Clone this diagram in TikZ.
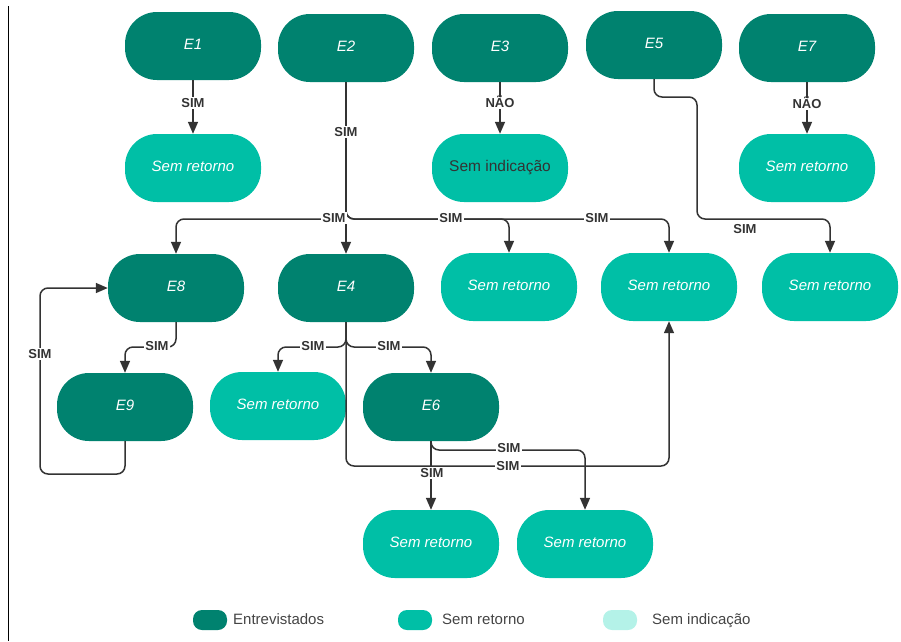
\documentclass[tikz,border=0pt]{standalone}
\usepackage{fontspec}
\setmainfont{Liberation Sans}
\usetikzlibrary{arrows.meta}
\definecolor{dk}{HTML}{00826F}
\definecolor{tl}{HTML}{00BFA6}
\definecolor{lt}{HTML}{B4F2E8}
\definecolor{ln}{HTML}{333333}
\definecolor{lg}{HTML}{444444}
\begin{document}
\begin{tikzpicture}[x=1pt,y=-1pt,
 pill/.style={rounded corners=32pt, minimum width=136pt, minimum height=68pt, inner sep=0pt, text height=11pt, text depth=3.5pt, text=white, font=\fontsize{15}{17}\selectfont\itshape},
 ent/.style={pill, fill=dk},
 ret/.style={pill, fill=tl},
 ind/.style={pill, fill=tl, text=ln, font=\fontsize{15.5}{18}\selectfont},
 conn/.style={draw=ln, line width=1.5pt, rounded corners=8pt, -{Triangle[length=12pt,width=10pt]}},
 lbl/.style={fill=white, inner sep=1pt, text height=9.5pt, text depth=0pt, text=ln, font=\fontsize{13}{15}\selectfont\bfseries},
 lbln/.style={inner sep=1pt, text=ln, font=\fontsize{13}{15}\selectfont\bfseries},
 leg/.style={rounded corners=9pt, minimum width=34pt, minimum height=20pt, inner sep=0pt},
 legt/.style={anchor=base west, text=lg, inner sep=0pt, font=\fontsize{15}{17}\selectfont}
]
\useasboundingbox (0,0) rectangle (901,641);
\draw[black, line width=1pt] (8,6) -- (8,641);

% top row
\node[ent] (E1) at (193,46) {E1};
\node[ent] (E2) at (346,48) {E2};
\node[ent] (E3) at (500,48) {E3};
\node[ent] (E5) at (654,45) {E5};
\node[ent] (E7) at (807,48) {E7};
% second row
\node[ret] (R1) at (193,168) {Sem retorno};
\node[ind] (I3) at (500,168) {Sem indicação};
\node[ret] (R7) at (807,168) {Sem retorno};
% third row
\node[ent] (E8) at (176,288) {E8};
\node[ent] (E4) at (346,288) {E4};
\node[ret] (R2a) at (509,287) {Sem retorno};
\node[ret] (R2b) at (669,287) {Sem retorno};
\node[ret] (R5) at (830,287) {Sem retorno};
% fourth row
\node[ent] (E9) at (125,407) {E9};
\node[ret] (R4) at (278,406) {Sem retorno};
\node[ent] (E6) at (431,407) {E6};
% fifth row
\node[ret] (R6a) at (431,544) {Sem retorno};
\node[ret] (R6b) at (585,544) {Sem retorno};

% connectors
\draw[conn] (E1) -- (R1);
\draw[conn] (E3) -- (I3);
\draw[conn] (E7) -- (R7);
\draw[conn] (E2) -- (E4);
\draw[conn] (E2.south) -- (346,219) -| (E8.north);
\draw[conn] (E2.south) -- (346,219) -| (R2a.north);
\draw[conn] (E2.south) -- (346,219) -| (R2b.north);
\draw[conn] (E5.south) -- (654,97) -- (697,97) -- (697,219) -| (R5.north);
\draw[conn] (E8.south) -- (176,347) -| (E9.north);
\draw[conn] (E9.south) -- (125,474) -- (40,474) |- (E8.west);
\draw[conn] (E4.south) -- (346,347) -| (R4.north);
\draw[conn] (E4.south) -- (346,347) -| (E6.north);
\draw[conn] (E4.south) -- (346,466) -| (R2b.south);
\draw[conn] (E6) -- (R6a);
\draw[conn] (E6.south) -- (431,450) -| (R6b.north);

% labels
\node[lbl] (l1) at (193,103) {SIM};
\node[lbl] (l2) at (500,103) {NÃO};
\node[lbl] (l3) at (807,104) {NÃO};
\node[lbl] (l4) at (346,132) {SIM};
\node[lbl] (l5) at (334,218) {SIM};
\node[lbl] (l6) at (451,218) {SIM};
\node[lbl] (l7) at (597,218) {SIM};
\node[lbln] (l8) at (745,229) {SIM};
\node[lbl] (l9) at (157,346) {SIM};
\node[lbl] (l10) at (40,354) {SIM};
\node[lbl] (l11) at (313,346) {SIM};
\node[lbl] (l12) at (389,346) {SIM};
\node[lbl] (l13) at (432,473) {SIM};
\node[lbl] (l14) at (509,448) {SIM};
\node[lbl] (l15) at (508,466) {SIM};

% legend
\node[leg, fill=dk] (g1) at (210,620) {};
\node[legt] (t1) at (233,624.5) {Entrevistados};
\node[leg, fill=tl] (g2) at (415,620) {};
\node[legt] (t2) at (442,624.5) {Sem retorno};
\node[leg, fill=lt] (g3) at (620,620) {};
\node[legt] (t3) at (652,624.5) {Sem indicação};
\end{tikzpicture}
\end{document}
